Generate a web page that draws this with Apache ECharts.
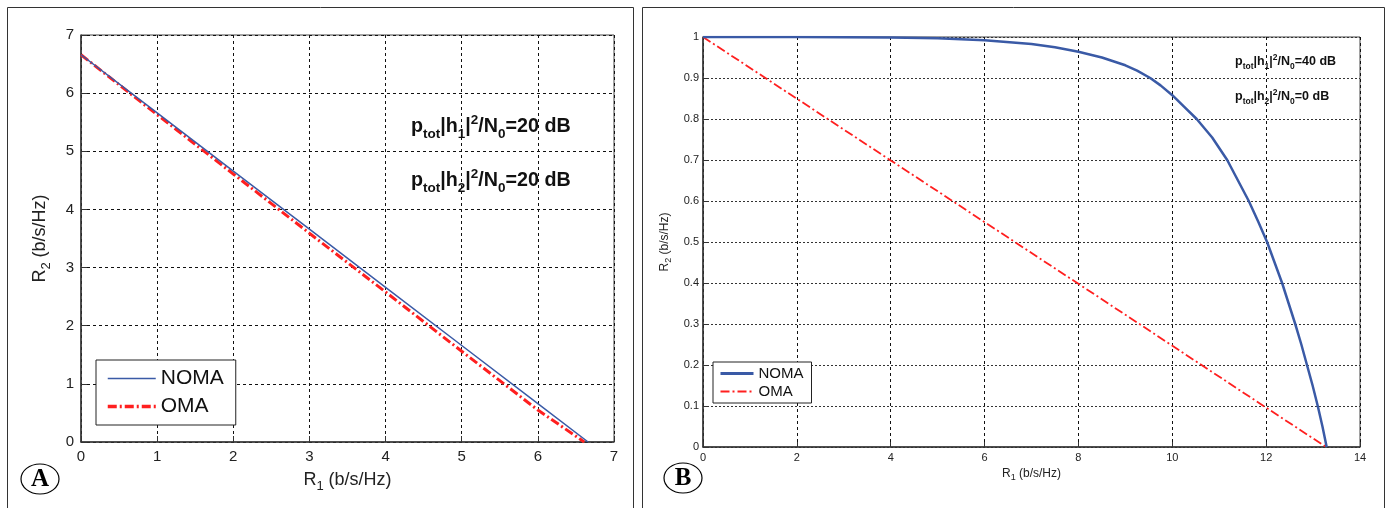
<!DOCTYPE html>
<html><head><meta charset="utf-8">
<script src="https://cdn.jsdelivr.net/npm/echarts@6/dist/echarts.min.js"></script>
<style>html,body{margin:0;padding:0;background:#fff}#c{width:1387px;height:508px}</style>
</head><body><div id="c"></div>
<script>
// ---- data ----
const seriesNames = ['NOMA', 'OMA'];
const ticksAx = [0, 1, 2, 3, 4, 5, 6, 7];
const ticksAy = [0, 1, 2, 3, 4, 5, 6, 7];
const ticksBx = [0, 2, 4, 6, 8, 10, 12, 14];
const ticksBy = [0, 0.1, 0.2, 0.3, 0.4, 0.5, 0.6, 0.7, 0.8, 0.9, 1];
const nomaA = [[0, 6.66], [1, 5.66], [2, 4.66], [3, 3.66], [4, 2.66], [5, 1.66], [6, 0.66], [6.66, 0]];
const omaA = [[0, 6.66], [1, 5.63], [2, 4.61], [3, 3.59], [4, 2.58], [5, 1.56], [6, 0.55], [6.61, 0]];
const nomaB = [[0, 1], [2, 1], [4, 0.999], [5, 0.997], [6, 0.992], [7, 0.983], [7.5, 0.975], [8, 0.964],
  [8.5, 0.95], [9, 0.931], [9.25, 0.918], [9.53, 0.9], [9.75, 0.882], [10, 0.858], [10.25, 0.83],
  [10.52, 0.8], [10.85, 0.755], [11.17, 0.7], [11.4, 0.65], [11.63, 0.6], [11.83, 0.55], [12.02, 0.5],
  [12.18, 0.45], [12.34, 0.4], [12.48, 0.35], [12.62, 0.3], [12.75, 0.25], [12.87, 0.2], [12.99, 0.15],
  [13.1, 0.1], [13.2, 0.05], [13.29, 0]];
const omaB = [[0, 1], [4, 0.699], [8, 0.398], [12, 0.096], [13.28, 0]];
const snrA = ['20 dB', '20 dB'];
const snrB = ['40 dB', '0 dB'];
const panelLabels = ['A', 'B'];
const axisNameX = ['R', '1', ' (b/s/Hz)'];
const axisNameY = ['R', '2', ' (b/s/Hz)'];

// ---- styles ----
const FONT = '"Liberation Sans", Arial, sans-serif';
const BLUE = '#3a5aa6';
const RED = '#ff1f1f';
const DASHDOT = [9, 3, 2, 3];

function axisName(parts) {
  return '{z| }{a|' + parts[0] + '}{s|' + parts[1] + '}{a|' + parts[2] + '}';
}
function annot(idx, val) {
  return '{z| }{b|p}{s|tot}{b||h}{s|' + idx + '}{b||}{p|2}{b|/N}{s|0}{b|=' + val + '}';
}
function richAnnot(fs, sub) {
  return {
    z: { fontSize: 2, lineHeight: Math.round(fs * 1.4), verticalAlign: 'middle', width: 0 },
    b: { fontFamily: FONT, fontWeight: 'bold', fontSize: fs, lineHeight: fs, verticalAlign: 'middle', fill: '#111' },
    s: { fontFamily: FONT, fontWeight: 'bold', fontSize: sub, lineHeight: Math.round(sub * 0.75), verticalAlign: 'bottom', fill: '#111' },
    p: { fontFamily: FONT, fontWeight: 'bold', fontSize: sub, lineHeight: Math.round(sub * 0.95), verticalAlign: 'top', fill: '#111' }
  };
}
function axisNameRich(fs, sub) {
  return {
    z: { fontSize: 2, lineHeight: Math.round(fs * 1.45), verticalAlign: 'middle', width: 0 },
    a: { fontFamily: FONT, fontSize: fs, color: '#222', lineHeight: fs, verticalAlign: 'middle' },
    s: { fontFamily: FONT, fontSize: sub, color: '#222', lineHeight: Math.round(sub * 0.75), verticalAlign: 'bottom' }
  };
}
function valueAxis(ticks, gridIndex, opts) {
  return Object.assign({
    type: 'value', gridIndex: gridIndex,
    min: ticks[0], max: ticks[ticks.length - 1], interval: ticks[1] - ticks[0],
    axisLine: { show: true, onZero: false, lineStyle: { color: '#333', width: 1.5 } },
    axisTick: { show: true, inside: true, length: 6, lineStyle: { color: '#333' } },
    splitLine: { show: true, lineStyle: { color: '#111', type: [3, 3], width: 1 } },
    nameLocation: 'middle'
  }, opts);
}
const hideSym = { opacity: 0, color: 'transparent', borderWidth: 0 };

const chart = echarts.init(document.getElementById('c'), null, { renderer: 'canvas' });
const option = {
  animation: false,
  backgroundColor: '#fff',
  grid: [
    { left: 81, top: 35, width: 533, height: 407, show: true, borderColor: '#444', borderWidth: 1, backgroundColor: 'transparent' },
    { left: 703, top: 37, width: 657, height: 410, show: true, borderColor: '#444', borderWidth: 1, backgroundColor: 'transparent' }
  ],
  xAxis: [
    valueAxis(ticksAx, 0, {
      name: axisName(axisNameX), nameGap: 25,
      nameTextStyle: { rich: axisNameRich(18, 13) },
      axisLabel: { fontFamily: FONT, fontSize: 15, color: '#222', margin: 7 }
    }),
    valueAxis(ticksBx, 1, {
      name: axisName(axisNameX), nameGap: 17,
      nameTextStyle: { rich: axisNameRich(12, 9) },
      axisTick: { show: true, inside: true, length: 5, lineStyle: { color: '#333' } },
      axisLabel: { fontFamily: FONT, fontSize: 11, color: '#222', margin: 5 },
      splitLine: { show: true, lineStyle: { color: '#111', type: [3, 3], width: 1 } }
    })
  ],
  yAxis: [
    valueAxis(ticksAy, 0, {
      name: axisName(axisNameY), nameGap: 28,
      nameTextStyle: { rich: axisNameRich(18, 13) },
      axisLabel: { fontFamily: FONT, fontSize: 15, color: '#222', margin: 7 }
    }),
    valueAxis(ticksBy, 1, {
      name: axisName(axisNameY), nameGap: 30,
      nameTextStyle: { rich: axisNameRich(12, 9) },
      axisTick: { show: true, inside: true, length: 5, lineStyle: { color: '#333' } },
      axisLabel: { fontFamily: FONT, fontSize: 11, color: '#222', margin: 4 },
      splitLine: { show: true, lineStyle: { color: '#333', type: [2, 2], width: 1 } }
    })
  ],
  legend: [
    {
      orient: 'vertical', left: 96, top: 360,
      data: [
        { name: seriesNames[0], itemStyle: hideSym, lineStyle: { color: BLUE, width: 1.6 } },
        { name: seriesNames[1], itemStyle: hideSym, lineStyle: { color: RED, width: 3.5, type: DASHDOT } }
      ],
      itemWidth: 48, itemHeight: 22, itemGap: 7,
      padding: [8, 12, 8, 10],
      borderColor: '#222', borderWidth: 1, backgroundColor: '#fff',
      textStyle: { fontFamily: FONT, fontSize: 21, color: '#111' },
      selectedMode: false
    },
    {
      orient: 'vertical', left: 713, top: 362,
      data: [
        { name: seriesNames[0], itemStyle: hideSym, lineStyle: { color: BLUE, width: 3 } },
        { name: seriesNames[1], itemStyle: hideSym, lineStyle: { color: RED, width: 2, type: DASHDOT } }
      ],
      itemWidth: 33, itemHeight: 17, itemGap: 3,
      padding: [4, 8, 4, 6],
      borderColor: '#222', borderWidth: 1, backgroundColor: '#fff',
      textStyle: { fontFamily: FONT, fontSize: 15, color: '#111' },
      selectedMode: false
    }
  ],
  series: [
    { name: seriesNames[1], type: 'line', xAxisIndex: 0, yAxisIndex: 0, data: omaA, showSymbol: false, symbol: 'none',
      lineStyle: { color: RED, width: 3, type: DASHDOT }, itemStyle: { color: RED }, z: 2 },
    { name: seriesNames[0], type: 'line', xAxisIndex: 0, yAxisIndex: 0, data: nomaA, showSymbol: false, symbol: 'none',
      lineStyle: { color: BLUE, width: 1.5 }, itemStyle: { color: BLUE }, z: 3 },
    { name: seriesNames[1], type: 'line', xAxisIndex: 1, yAxisIndex: 1, data: omaB, showSymbol: false, symbol: 'none',
      lineStyle: { color: RED, width: 1.8, type: DASHDOT }, itemStyle: { color: RED }, z: 2 },
    { name: seriesNames[0], type: 'line', xAxisIndex: 1, yAxisIndex: 1, data: nomaB, showSymbol: false, symbol: 'none',
      lineStyle: { color: BLUE, width: 2.5, join: 'round' }, itemStyle: { color: BLUE }, z: 3 }
  ],
  graphic: [
    { type: 'rect', silent: true, shape: { x: 7.5, y: 7.5, width: 626, height: 530 }, style: { fill: 'none', stroke: '#333', lineWidth: 1 } },
    { type: 'rect', silent: true, shape: { x: 642.5, y: 7.5, width: 742, height: 530 }, style: { fill: 'none', stroke: '#333', lineWidth: 1 } },
    { type: 'ellipse', silent: true, shape: { cx: 40, cy: 479, rx: 19, ry: 15 }, style: { fill: 'none', stroke: '#000', lineWidth: 1.2 } },
    { type: 'ellipse', silent: true, shape: { cx: 683, cy: 478, rx: 19, ry: 15 }, style: { fill: 'none', stroke: '#000', lineWidth: 1.2 } },
    { type: 'text', silent: true, x: 40, y: 480, style: { text: panelLabels[0], font: 'bold 25px "Liberation Serif", serif', fill: '#000', align: 'center', verticalAlign: 'middle' } },
    { type: 'text', silent: true, x: 683, y: 479, style: { text: panelLabels[1], font: 'bold 25px "Liberation Serif", serif', fill: '#000', align: 'center', verticalAlign: 'middle' } },
    { type: 'text', silent: true, x: 411, y: 113, style: { text: annot(1, snrA[0]), rich: richAnnot(19.7, 13.5) } },
    { type: 'text', silent: true, x: 411, y: 167, style: { text: annot(2, snrA[1]), rich: richAnnot(19.7, 13.5) } },
    { type: 'text', silent: true, x: 1235, y: 53, style: { text: annot(1, snrB[0]), rich: richAnnot(12.5, 8.5) } },
    { type: 'text', silent: true, x: 1235, y: 88, style: { text: annot(2, snrB[1]), rich: richAnnot(12.5, 8.5) } }
  ]
};
chart.setOption(option);
</script>
</body></html>
